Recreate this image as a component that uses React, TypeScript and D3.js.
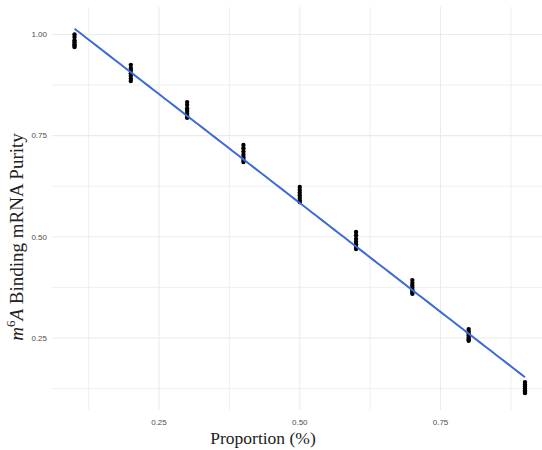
import React from "react";
import * as d3 from "d3";

// Replicate purity measurements at each mixing proportion
const proportions = [0.1, 0.2, 0.3, 0.4, 0.5, 0.6, 0.7, 0.8, 0.9];
const purity01 = [1.0, 0.994, 0.986, 0.981, 0.976, 0.972, 0.969];
const purity02 = [0.925, 0.917, 0.911, 0.904, 0.898, 0.891, 0.885];
const purity03 = [0.833, 0.826, 0.817, 0.811, 0.804, 0.799, 0.794];
const purity04 = [0.727, 0.719, 0.711, 0.703, 0.696, 0.69, 0.685];
const purity05 = [0.623, 0.616, 0.609, 0.602, 0.596, 0.59, 0.586];
const purity06 = [0.512, 0.504, 0.495, 0.488, 0.481, 0.475, 0.47];
const purity07 = [0.393, 0.386, 0.38, 0.374, 0.368, 0.363, 0.359];
const purity08 = [0.272, 0.266, 0.261, 0.256, 0.251, 0.247, 0.243];
const purity09 = [0.141, 0.135, 0.13, 0.125, 0.12, 0.117, 0.114];
const purityGroups = [
  purity01, purity02, purity03, purity04, purity05,
  purity06, purity07, purity08, purity09,
];

const xBreaks = [0.25, 0.5, 0.75];
const xMinor = [0.125, 0.375, 0.625, 0.875];
const yBreaks = [0.25, 0.5, 0.75, 1.0];
const yMinor = [0.125, 0.375, 0.625, 0.875];
const tickLabels = ["0.25", "0.50", "0.75", "1.00"];

const W = 542;
const H = 450;
const panel = { left: 52, right: 547.5, top: 7, bottom: 410 };

export default function App() {
  const points = proportions.flatMap((p, i) =>
    purityGroups[i].map((v) => ({ x: p, y: v }))
  );

  const x = d3.scaleLinear().domain([0.06, 0.94]).range([panel.left, panel.right]);
  const y = d3.scaleLinear().domain([0.072, 1.068]).range([panel.bottom, panel.top]);

  // ordinary least squares fit
  const mx = d3.mean(points, (d) => d.x) as number;
  const my = d3.mean(points, (d) => d.y) as number;
  const sxy = d3.sum(points, (d) => (d.x - mx) * (d.y - my));
  const sxx = d3.sum(points, (d) => (d.x - mx) ** 2);
  const slope = sxy / sxx;
  const intercept = my - slope * mx;
  const xs = d3.extent(proportions) as [number, number];
  const fit = d3.range(0, 81).map((k) => {
    const xv = xs[0] + ((xs[1] - xs[0]) * k) / 80;
    return [xv, intercept + slope * xv] as [number, number];
  });
  const linePath = d3
    .line<[number, number]>()
    .x((d) => x(d[0]))
    .y((d) => y(d[1]))(fit);

  const grid = "#ebebeb";
  const tickFont = "'Liberation Sans', Arial, sans-serif";
  const titleFont = "'Liberation Serif', 'Times New Roman', serif";

  return (
    <svg width={W} height={H} style={{ position: "absolute", left: 0, top: 0, background: "#fff" }}>
      <rect width={W} height={H} fill="#fff" />
      {/* grid */}
      {xMinor.map((v) => (
        <line key={"xm" + v} x1={x(v)} x2={x(v)} y1={panel.top} y2={panel.bottom} stroke={grid} strokeWidth={0.8} />
      ))}
      {yMinor.map((v) => (
        <line key={"ym" + v} y1={y(v)} y2={y(v)} x1={panel.left} x2={panel.right} stroke={grid} strokeWidth={0.8} />
      ))}
      {xBreaks.map((v) => (
        <line key={"xM" + v} x1={x(v)} x2={x(v)} y1={panel.top} y2={panel.bottom} stroke={grid} strokeWidth={1.1} />
      ))}
      {yBreaks.map((v) => (
        <line key={"yM" + v} y1={y(v)} y2={y(v)} x1={panel.left} x2={panel.right} stroke={grid} strokeWidth={1.1} />
      ))}

      {/* points */}
      {points.map((d, i) => (
        <circle key={i} cx={x(d.x)} cy={y(d.y)} r={2.2} fill="#000" />
      ))}

      {/* fitted line */}
      <path d={linePath ?? ""} fill="none" stroke="#3d6ad6" strokeWidth={2} />

      {/* y tick labels */}
      {yBreaks.map((v, i) => (
        <text key={"yl" + v} x={47} y={y(v)} dy="0.35em" textAnchor="end" fontFamily={tickFont} fontSize={8} fill="#4d4d4d">
          {tickLabels[i]}
        </text>
      ))}
      {/* x tick labels */}
      {xBreaks.map((v, i) => (
        <text key={"xl" + v} x={x(v)} y={424.5} textAnchor="middle" fontFamily={tickFont} fontSize={8} fill="#4d4d4d">
          {tickLabels[i]}
        </text>
      ))}

      {/* axis titles */}
      <text x={263} y={444} textAnchor="middle" fontFamily={titleFont} fontSize={17.5} fill="#222">
        Proportion (%)
      </text>
      <text
        transform="translate(23,237) rotate(-90)"
        textAnchor="middle"
        fontFamily={titleFont}
        fontSize={19}
        fill="#222"
      >
        <tspan fontStyle="italic">m</tspan>
        <tspan fontSize={13} dy={-8}>6</tspan>
        <tspan fontStyle="italic" dy={8}>A</tspan>
        <tspan> Binding mRNA Purity</tspan>
      </text>
    </svg>
  );
}
